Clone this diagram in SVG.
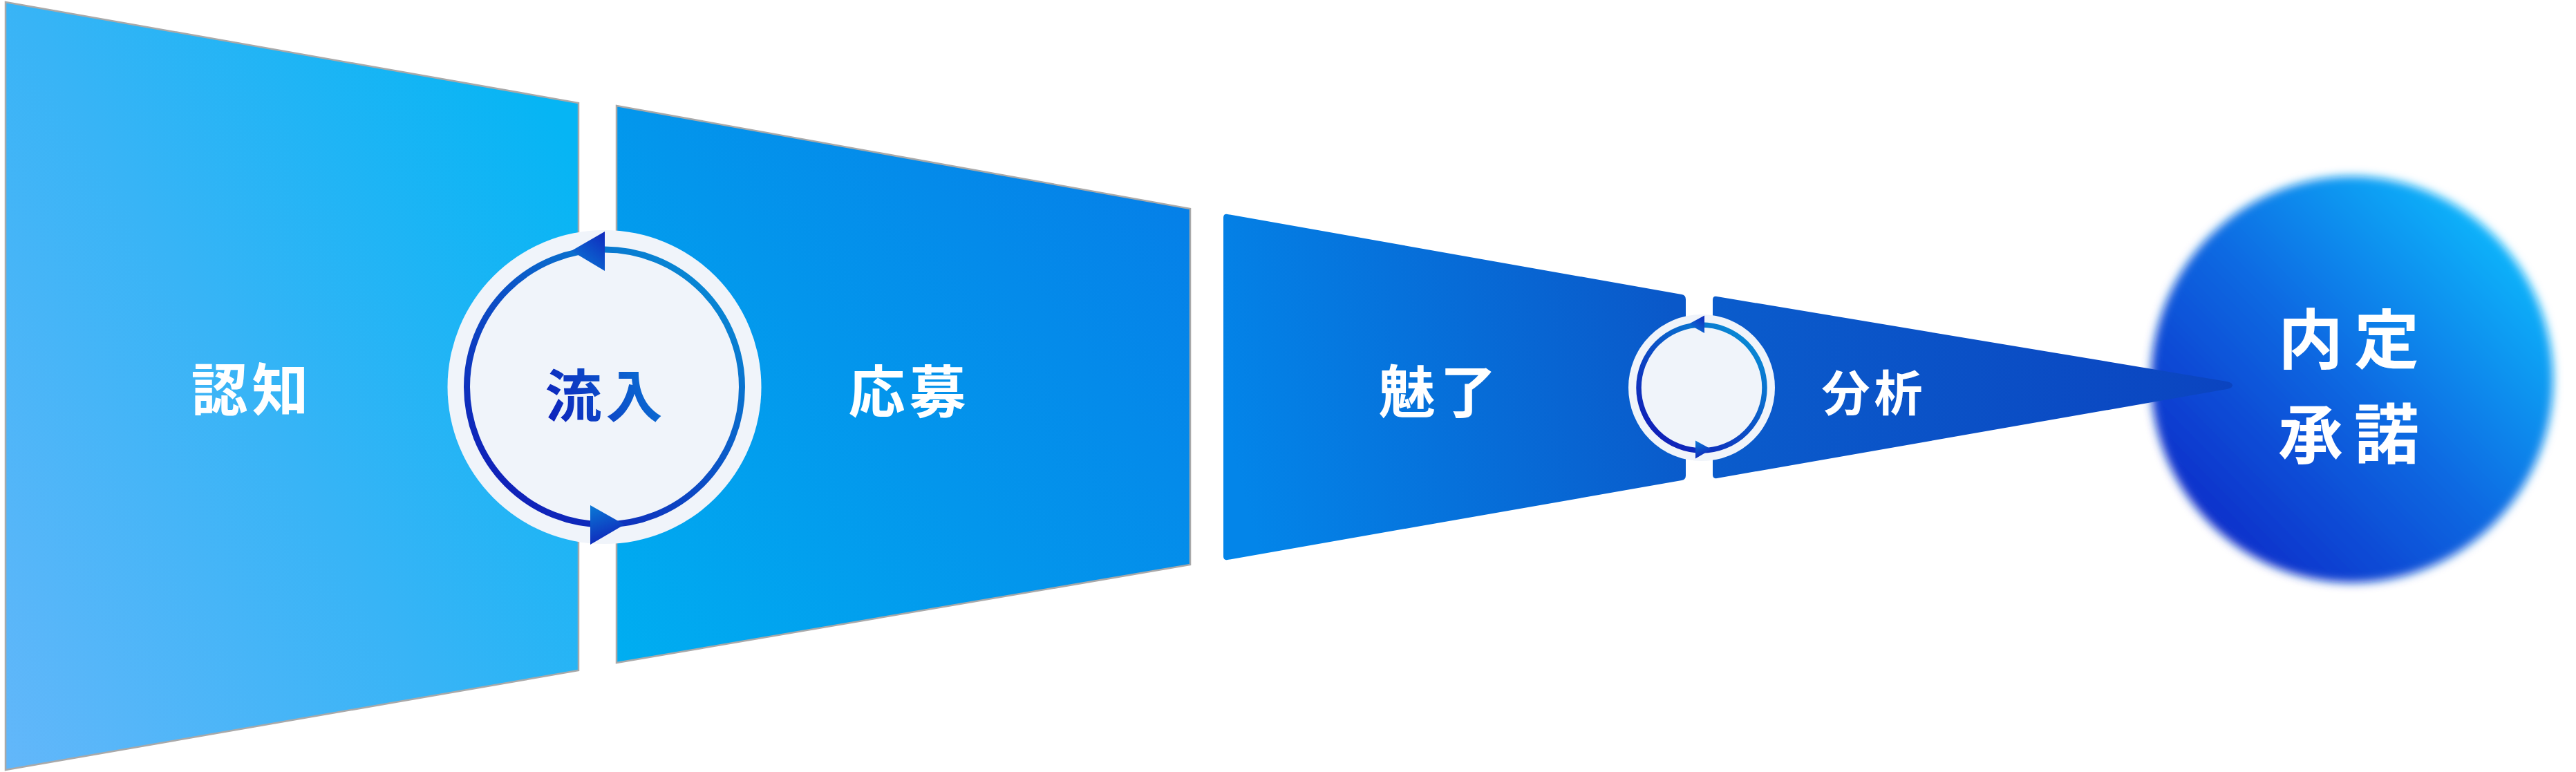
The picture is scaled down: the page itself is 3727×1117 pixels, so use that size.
<svg xmlns="http://www.w3.org/2000/svg" width="3727" height="1117" viewBox="0 0 3727 1117">
<defs>
<style>
.lbl{font-family:"Noto Sans CJK JP","Noto Sans",sans-serif;font-weight:700;fill:#ffffff;text-anchor:middle;dominant-baseline:central}
.edge{stroke:#a9a9a9;stroke-width:2.5;stroke-linejoin:miter}
.cbg{fill:#f0f4fa}
</style>
<linearGradient id="g1" x1="0" y1="1" x2="1" y2="0.2">
<stop offset="0" stop-color="#63b7fa"/><stop offset="0.5" stop-color="#38b4f6"/><stop offset="1" stop-color="#06b5f4"/>
</linearGradient>
<linearGradient id="g2" x1="0" y1="1" x2="1" y2="0.2">
<stop offset="0" stop-color="#00aef1"/><stop offset="0.5" stop-color="#0396ec"/><stop offset="1" stop-color="#0580e8"/>
</linearGradient>
<linearGradient id="g3" x1="0" y1="0.6" x2="1" y2="0.4">
<stop offset="0" stop-color="#0385e9"/><stop offset="1" stop-color="#0a58c9"/>
</linearGradient>
<linearGradient id="g4" x1="0" y1="0.5" x2="1" y2="0.5">
<stop offset="0" stop-color="#0a5ccc"/><stop offset="1" stop-color="#0b44c0"/>
</linearGradient>
<linearGradient id="ring" x1="0.85" y1="0.1" x2="0.15" y2="0.9">
<stop offset="0" stop-color="#0888d4"/><stop offset="0.5" stop-color="#0b50c6"/><stop offset="1" stop-color="#1020b8"/>
</linearGradient>
<linearGradient id="ahTop" x1="1" y1="0" x2="0.3" y2="1">
<stop offset="0" stop-color="#1028bd"/><stop offset="1" stop-color="#0a74d4"/>
</linearGradient>
<linearGradient id="ahBot" x1="0.3" y1="0" x2="0.6" y2="1">
<stop offset="0" stop-color="#0a74d4"/><stop offset="1" stop-color="#1020b8"/>
</linearGradient>
<linearGradient id="gtxt" gradientUnits="userSpaceOnUse" x1="790" y1="605" x2="957" y2="529">
<stop offset="0" stop-color="#0e20bb"/><stop offset="1" stop-color="#0a78d6"/>
</linearGradient>
<linearGradient id="gbig" x1="0.15" y1="0.85" x2="0.85" y2="0.15">
<stop offset="0" stop-color="#1131cb"/><stop offset="0.5" stop-color="#0e6ae2"/><stop offset="1" stop-color="#0bb2fa"/>
</linearGradient>
<filter id="soft" x="-10%" y="-10%" width="120%" height="120%">
<feGaussianBlur stdDeviation="7"/>
</filter>
</defs>
<rect width="3727" height="1117" fill="#ffffff"/>

<g id="node-goal">
<ellipse cx="3403" cy="549" rx="291" ry="294" fill="url(#gbig)" filter="url(#soft)"/>
</g>

<g id="node-ninchi">
<polygon class="edge" points="8,3 837,149 837,970 8,1114" fill="url(#g1)"/>
<text class="lbl" x="364.5" y="558" font-size="82" letter-spacing="6">認知</text>
</g>

<g id="node-oubo">
<polygon class="edge" points="892,153 1722,302 1722,817 892,959" fill="url(#g2)"/>
<text class="lbl" x="1315.5" y="561" font-size="82" letter-spacing="6">応募</text>
</g>

<g id="node-miryou">
<path d="M1770,315 Q1770,309 1776,310 L2433,426 Q2439,427 2439,433 L2439,688 Q2439,694 2433,695 L1776,810 Q1770,811 1770,805 Z" fill="url(#g3)"/>
<text class="lbl" x="2083" y="561.5" font-size="82" letter-spacing="6">魅了</text>
</g>

<g id="node-bunseki">
<path d="M2478,434 Q2478,428 2484,429 L3222,552 Q3230,553.5 3230,557.5 Q3230,561.5 3222,563 L2484,692 Q2478,693 2478,687 Z" fill="url(#g4)"/>
<text class="lbl" x="2711.5" y="564" font-size="70" letter-spacing="6">分析</text>
</g>

<g id="node-ryuunyuu">
<circle class="cbg" cx="874.5" cy="560" r="227"/>
<text class="lbl" x="876.5" y="567" font-size="82" letter-spacing="6" style="fill:url(#gtxt)">流入</text>
</g>

<g id="node-loop2">
<circle class="cbg" cx="2462" cy="561" r="106"/>
</g>

<g id="connectors">
<circle cx="874.5" cy="560" r="199" fill="none" stroke="url(#ring)" stroke-width="9"/>
<polygon points="875,335 875,392 826.5,363" fill="url(#ahTop)"/>
<polygon points="854,731 854,788 903.5,759" fill="url(#ahBot)"/>
<circle cx="2462" cy="561" r="91" fill="none" stroke="url(#ring)" stroke-width="7.5"/>
<polygon points="2466,456.5 2466,482 2443,469" fill="url(#ahTop)"/>
<polygon points="2453,637.5 2453,663.5 2476,650" fill="url(#ahBot)"/>
</g>

<g id="label-goal">
<text class="lbl" x="3406" y="485" font-size="94" letter-spacing="16">内定</text>
<text class="lbl" x="3406" y="621.5" font-size="94" letter-spacing="16">承諾</text>
</g>
</svg>
